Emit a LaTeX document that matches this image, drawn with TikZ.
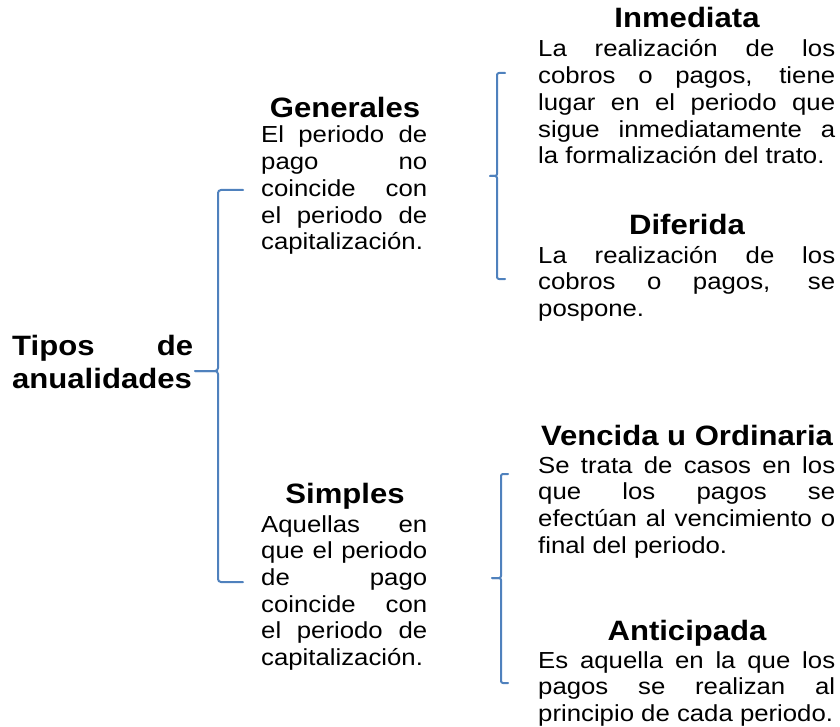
\documentclass[tikz,border=0pt]{standalone}
\usepackage{fontspec}
\setmainfont[FakeStretch=1.11]{Liberation Sans}
\definecolor{azulllave}{RGB}{79,129,189}
\tikzset{
	titulo/.style={font=\bfseries\fontsize{28}{33}\selectfont, inner sep=0pt},
	texto/.style={font=\fontsize{23.2}{26.7}\selectfont, inner sep=0pt, align=justify,
		text width=#1, anchor=base west,
		execute at begin node={\tolerance=10000\hyphenpenalty=10000}},
	llave/.style={draw=azulllave, line width=2pt, rounded corners=3pt}
}
\begin{document}
\begin{tikzpicture}[x=1pt, y=-1pt, line join=round, line cap=round]
	\useasboundingbox (0,0) rectangle (840,727);
	\def\xder{538} \def\ader{297} % bloques de la derecha
	\def\xmed{261} \def\amed{166} % bloques del medio
	% raiz
	\node[texto=181, font=\bfseries\fontsize{28}{33}\selectfont] (tipos) at (12,355)
		{Tipos de\linebreak anualidades};
	% nivel medio
	\node[titulo, anchor=base] (generales) at (345,118) {Generales};
	\node[texto=\amed] (generalesTxt) at (\xmed,143)
		{El periodo de\linebreak pago no\linebreak coincide con\linebreak el periodo de\linebreak capitalización.};
	\node[titulo, anchor=base] (simples) at (345,503) {Simples};
	\node[texto=\amed] (simplesTxt) at (\xmed,532)
		{Aquellas en\linebreak que el periodo\linebreak de pago\linebreak coincide con\linebreak el periodo de\linebreak capitalización.};
	% derecha, arriba
	\node[titulo, anchor=base] (inmediata) at (687,28) {Inmediata};
	\node[texto=\ader] (inmediataTxt) at (\xder,57)
		{La realización de los\linebreak cobros o pagos, tiene\linebreak lugar en el periodo que\linebreak sigue inmediatamente a\linebreak la formalización del trato.};
	\node[titulo, anchor=base] (diferida) at (687,235) {Diferida};
	\node[texto=\ader] (diferidaTxt) at (\xder,263)
		{La realización de los\linebreak cobros o pagos, se\linebreak pospone.};
	% derecha, abajo
	\node[titulo, anchor=base] (vencida) at (687,445) {Vencida u Ordinaria};
	\node[texto=\ader] (vencidaTxt) at (\xder,473)
		{Se trata de casos en los\linebreak que los pagos se\linebreak efectúan al vencimiento o\linebreak final del periodo.};
	\node[titulo, anchor=base] (anticipada) at (687,640) {Anticipada};
	\node[texto=\ader] (anticipadaTxt) at (\xder,668)
		{Es aquella en la que los\linebreak pagos se realizan al\linebreak principio de cada periodo.};
	% llaves
	\coordinate (puntaA) at (195,371);
	\coordinate (puntaB) at (490,176);
	\coordinate (puntaC) at (492,578);
	\draw[llave] (243,190) -- (218,190) -- (218,371) -- (puntaA);
	\draw[llave] (243,582) -- (218,582) -- (218,371) -- (puntaA);
	\draw[llave, rounded corners=2pt] (505,73) -- (497,73) -- (497,176) -- (puntaB);
	\draw[llave, rounded corners=2pt] (505,279) -- (497,279) -- (497,176) -- (puntaB);
	\draw[llave, rounded corners=2pt] (508,474) -- (501,474) -- (501,578) -- (puntaC);
	\draw[llave, rounded corners=2pt] (508,683) -- (501,683) -- (501,578) -- (puntaC);
\end{tikzpicture}
\end{document}
